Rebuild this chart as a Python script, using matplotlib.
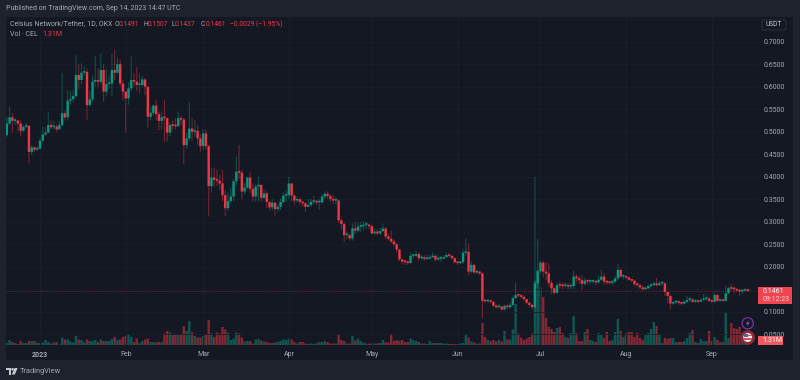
import matplotlib
matplotlib.use("Agg")
import matplotlib.pyplot as plt
from matplotlib.patches import Rectangle, Circle, Polygon, FancyBboxPatch
from matplotlib.transforms import Affine2D
import pandas as pd
import numpy as np

plt.rcParams['font.family'] = ['Roboto', 'DejaVu Sans']

first_day = "2022-12-20"
first_open = 0.493
closes = [
 .518,.532,.524,.525,.518,.502,.511,.513,.455,.465,.460,.462,
 .480,.494,.498,.515,.510,.511,.505,.515,.541,.532,
 .569,.572,.579,.626,.615,.631,.633,.559,.572,.611,
 .615,.611,.637,.589,.606,.607,.637,.631,.650,.607,
 .589,.574,.596,.615,.611,.604,.604,.616,.600,.533,
 .542,.558,.539,.524,.532,.530,.498,.515,.513,.512,
 .530,.527,.470,.485,.507,.500,.502,.485,.468,.496,
 .468,.379,.398,.393,.391,.385,.359,.330,.346,.356,
 .390,.411,.409,.367,.376,.398,.373,.356,.378,.382,
 .353,.363,.344,.332,.342,.328,.333,.344,.358,.359,
 .385,.358,.347,.350,.344,.341,.333,.337,.344,.344,
 .343,.343,.356,.362,.357,.351,.347,.347,.303,.295,
 .270,.270,.263,.285,.280,.289,.290,.293,.293,.290,
 .274,.278,.274,.279,.285,.267,.262,.256,.250,.238,
 .216,.211,.210,.208,.224,.224,.228,.219,.219,.217,
 .218,.221,.224,.216,.218,.218,.221,.226,.224,.219,
 .210,.208,.210,.231,.233,.189,.204,.187,.189,.185,
 .124,.123,.123,.122,.113,.110,.111,.105,.113,.110,
 .115,.130,.137,.136,.133,.128,.120,.115,.110,.163,
 .190,.209,.189,.185,.164,.152,.142,.159,.158,.157,
 .158,.156,.157,.178,.174,.170,.162,.169,.167,.167,
 .168,.165,.171,.178,.167,.165,.164,.167,.174,.193,
 .178,.178,.176,.171,.169,.161,.159,.154,.150,.152,
 .157,.159,.163,.159,.163,.163,.144,.135,.118,.121,
 .122,.120,.118,.122,.126,.127,.122,.124,.122,.126,
 .128,.129,.124,.122,.137,.124,.126,.124,.141,.152,
 .151,.150,.147,.145,.147,.1491,.1461]
highs = [
 .533,.556,.542,.530,.525,.525,.515,.520,.515,.470,.468,.468,
 .486,.511,.510,.544,.525,.524,.516,.524,.630,.546,
 .593,.590,.593,.670,.650,.652,.645,.640,.590,.625,
 .668,.640,.674,.650,.640,.625,.674,.683,.665,.660,
 .615,.590,.610,.667,.630,.643,.630,.624,.620,.600,
 .555,.560,.570,.545,.545,.570,.532,.520,.525,.530,
 .545,.535,.530,.497,.564,.530,.526,.515,.495,.505,
 .505,.470,.420,.420,.415,.405,.415,.370,.365,.375,
 .395,.445,.470,.416,.385,.400,.411,.385,.385,.400,
 .380,.373,.368,.345,.350,.345,.340,.352,.365,.370,
 .400,.385,.362,.356,.352,.346,.343,.350,.350,.357,
 .348,.350,.362,.367,.367,.362,.360,.355,.350,.307,
 .298,.278,.272,.296,.300,.300,.300,.301,.300,.296,
 .293,.284,.283,.286,.296,.288,.272,.281,.260,.252,
 .240,.217,.215,.214,.232,.228,.235,.232,.226,.225,
 .227,.226,.232,.228,.225,.224,.226,.229,.229,.226,
 .221,.213,.213,.239,.263,.252,.212,.206,.194,.192,
 .187,.128,.128,.126,.124,.116,.117,.113,.116,.116,
 .120,.133,.164,.140,.139,.136,.129,.121,.117,.400,
 .262,.213,.213,.210,.208,.170,.155,.165,.165,.165,
 .165,.163,.162,.191,.183,.180,.181,.175,.172,.172,
 .172,.170,.180,.193,.186,.170,.168,.171,.180,.206,
 .196,.183,.180,.178,.173,.172,.165,.162,.158,.156,
 .160,.163,.166,.175,.168,.167,.165,.143,.137,.123,
 .124,.125,.122,.126,.135,.132,.130,.128,.127,.130,
 .139,.136,.133,.127,.142,.140,.130,.128,.158,.156,
 .162,.156,.153,.151,.150,.152,.1507]
lows = [
 .489,.515,.498,.515,.500,.490,.500,.508,.430,.448,.454,.456,
 .470,.478,.490,.498,.505,.505,.500,.508,.512,.525,
 .525,.560,.565,.575,.595,.605,.625,.526,.556,.568,
 .600,.598,.605,.566,.578,.595,.579,.615,.630,.600,
 .570,.498,.560,.590,.600,.590,.585,.600,.581,.509,
 .525,.535,.525,.503,.505,.478,.478,.490,.505,.505,
 .515,.515,.428,.462,.478,.480,.488,.470,.455,.460,
 .460,.312,.365,.378,.380,.370,.345,.313,.325,.340,
 .345,.380,.395,.350,.360,.372,.365,.345,.345,.345,
 .345,.350,.330,.325,.325,.313,.322,.326,.340,.345,
 .350,.345,.338,.343,.338,.333,.322,.333,.333,.338,
 .338,.327,.340,.350,.350,.345,.340,.338,.298,.283,
 .256,.262,.258,.258,.273,.276,.277,.280,.284,.283,
 .272,.271,.270,.271,.278,.262,.258,.252,.245,.232,
 .212,.205,.203,.204,.207,.218,.222,.213,.215,.213,
 .215,.216,.220,.212,.213,.211,.216,.221,.220,.216,
 .207,.204,.206,.207,.225,.181,.185,.185,.184,.182,
 .085,.119,.120,.118,.110,.107,.107,.102,.103,.106,
 .106,.112,.128,.132,.130,.124,.116,.111,.106,.107,
 .160,.183,.176,.170,.155,.140,.138,.140,.152,.150,
 .152,.150,.150,.150,.165,.162,.150,.158,.160,.161,
 .162,.159,.163,.168,.160,.160,.159,.160,.163,.170,
 .175,.171,.172,.169,.165,.158,.155,.150,.147,.148,
 .151,.154,.158,.155,.157,.158,.135,.118,.105,.115,
 .117,.115,.114,.116,.119,.122,.120,.119,.119,.122,
 .124,.124,.122,.120,.120,.122,.122,.122,.122,.139,
 .147,.140,.145,.135,.140,.145,.1437]
volumes = [
 2,5,3,2,1,4,2,2,4,4,4,2,
 2,2.5,5,3,1.5,2.5,3,.5,7.5,5.5,
 5.5,3.5,2.5,9,5.5,5,2.5,5.5,4,4,
 5,3,5.5,4,4,4,6,8,5,5.5,
 8,9,11,8,3,6.5,2,4,5.5,6.5,
 3,3,2.5,3,3,11.5,14,12.5,10.5,10.5,
 10.5,10.5,19,14,24,12.5,9,7.5,7.5,9,
 10.5,25,11.5,8,12.5,11.5,18,15.5,12.5,5,
 6.5,12.5,11.5,7.5,3.5,4,4,1.5,5.5,6,
 4.5,3.5,3,2,2,2.5,3,4,5.5,5,
 6.5,5.5,3,1.5,3,3,1.5,1,1.5,1,
 1.7,3,3,4,3,1.5,1.5,1.5,10,5,
 4,1.5,1.5,9,4.5,6.5,4,2.5,1.5,1.5,
 1.5,1.5,1.5,2,5,3,2.5,11,4,5,
 4,5,3,3,6.5,5,4,3,1.5,1.5,
 1,4,2,2,2,2,1.5,1.5,1,1,
 1,1,1.5,2,10,7.5,3.5,2.5,1.5,1.5,
 22,8,5,4,5,3.5,5,3.5,14,5.5,
 5.5,15.5,41,11.5,7.5,5,6.5,8,11.5,64,
 75,58,48,27,18,16,13,17,18,12,
 8,7,12,29,12,4,4,13,16,5,
 4,3,12,10,7,13,4,5,13,26,
 14,8,12,13,13,8,12,7,5,10,
 12,16,23,19,10,2,7,6,7,7,
 3,3,3,4,7,12,15,3,2,6,
 4,4,14,4,8,5,3,3,32,7,
 22,17,16,18,12,8,5]
price_ticks = [.05,.10,.15,.20,.25,.30,.35,.40,.45,.50,.55,.60,.65,.70]
month_dates = ["2023-01-01","2023-02-01","2023-03-01","2023-04-01","2023-05-01",
               "2023-06-01","2023-07-01","2023-08-01","2023-09-01"]
month_labels = ["2023","Feb","Mar","Apr","May","Jun","Jul","Aug","Sep"]

UP = "#089981"; DOWN = "#f23645"
PANE = "#141823"; STRIP = "#1e222d"; GRID = "#1a1e29"; TXT = "#a6a9b2"

n = len(closes)
dates = pd.date_range(first_day, periods=n, freq="D")
opens = [first_open] + closes[:-1]
x = np.arange(n)
up = [c >= o for o, c in zip(opens, closes)]
cols = [UP if u else DOWN for u in up]
origin = pd.Timestamp(first_day)
tick_x = [(pd.Timestamp(d) - origin).days for d in month_dates]

fig = plt.figure(figsize=(8, 3.8), dpi=100, facecolor=STRIP)
px = Affine2D().scale(1, -1).translate(0, 380)

fig.add_artist(Rectangle((6, 17), 787, 343, transform=px, fc=PANE, ec="none", zorder=-5))

L, R, T, B = 6, 758, 17, 345
pos = [L/800, 1-B/380, (R-L)/800, (B-T)/380]
ax_v = fig.add_axes(pos, facecolor="none", zorder=1)
ax = fig.add_axes(pos, facecolor="none", zorder=2, sharex=ax_v)

xmin = -0.3
xmax = xmin + (R-L)/2.765
ax.set_xlim(xmin, xmax)
ax.set_ylim(0.1 + (311.7-B)/450, 0.1 + (311.7-T)/450)
ax_v.set_ylim(0, B-T)

vbars = ax_v.bar(x, volumes, width=0.86, color=cols, alpha=0.5, linewidth=0)
ax_v.set_yticks([])

wicks = ax.vlines(x, lows, highs, colors=cols, linewidth=0.8, alpha=0.42, zorder=3)
wicks.set_snap(False)
body_b = [min(o, c) for o, c in zip(opens, closes)]
body_h = [max(abs(c-o), 0.0035) for o, c in zip(opens, closes)]
bodies = ax.bar(x, body_h, bottom=body_b, width=0.86, color=cols, linewidth=0, zorder=4)
for p in list(vbars) + list(bodies):
    p.set_snap(False)

ax.axhline(closes[-1], color=DOWN, lw=0.7, ls=(0, (1, 1.2)), alpha=0.4, zorder=2)

ax.set_yticks(price_ticks)
ax.set_yticklabels([f"{v:.4f}" for v in price_ticks], color=TXT, fontsize=5.0)
ax.yaxis.tick_right()
ax.tick_params(axis="y", length=0, pad=4)
ax.set_xticks(tick_x)
ax.set_xticklabels(month_labels, color=TXT, fontsize=5.0)
ax.get_xticklabels()[0].set_fontweight("bold")
ax.tick_params(axis="x", length=0, pad=4)
ax.grid(True, color=GRID, lw=0.6, zorder=0)
ax.set_axisbelow(True)
for a in (ax, ax_v):
    for s in a.spines.values():
        s.set_visible(False)
plt.setp(ax_v.get_xticklabels(), visible=False)
ax_v.tick_params(axis="x", length=0)

def t(xp, yp, s, color=TXT, size=5.0, **kw):
    fig.text(xp/800, 1-yp/380, s, color=color, fontsize=size, va="center", ha=kw.pop("ha", "left"), **kw)

t(6, 9, "Published on TradingView.com, Sep 14, 2023 14:47 UTC", size=5.0)
t(10, 24, "Celsius Network/Tether, 1D, OKX")
for xp, s, c in [(115, "O", TXT), (119, "0.1491", DOWN), (144, "H", TXT), (148, "0.1507", DOWN),
                 (171, "L", TXT), (175, "0.1437", DOWN), (201, "C", TXT), (205.5, "0.1461", DOWN),
                 (230, "\u22120.0029 (\u22121.95%)", DOWN)]:
    t(xp, 24, s, color=c, size=4.9)
t(10, 34, "Vol \u00b7 CEL")
t(42, 34, "1.31M", color=DOWN)

fig.add_artist(FancyBboxPatch((762, 20), 24, 10, boxstyle="round,pad=0,rounding_size=1.5", transform=px,
                              fc=PANE, ec="#363a45", lw=0.5))
t(774, 25, "USDT", ha="center", size=4.8, color="#c4c7cf")

fig.add_artist(Rectangle((758, 287), 34, 17, transform=px, fc="#f0444f", ec="none", zorder=5))
t(763, 291.5, "0.1461", color="#ffffff", size=5.0, zorder=6)
t(763, 299.5, "09:12:23", color="#ffd9db", size=5.0, zorder=6)
fig.add_artist(Rectangle((758, 336), 25, 8.5, transform=px, fc="#f0595f", ec="none", zorder=5))
t(762, 340.3, "1.31M", color="#ffffff", size=5.0, zorder=6)

fig.add_artist(Circle((747.7, 323.3), 5.6, transform=px, fc=PANE, ec="#7e30a5", lw=0.9, zorder=5))
fig.add_artist(Polygon([(748.8, 319.8), (745.8, 324), (747.6, 324), (746.8, 326.8), (749.8, 322.6), (748, 322.6)],
                       transform=px, fc="#8a4bb0", ec="none", zorder=6))
fig.add_artist(Circle((747.7, 337.5), 7.3, transform=px, fc="#8a2a33", ec="none", zorder=5))
fig.add_artist(Circle((747.7, 337.5), 4.5, transform=px, fc="#e8e8ee", ec="none", zorder=6))
fig.add_artist(Rectangle((743.2, 335), 9, 1.2, transform=px, fc="#d8505a", ec="none", zorder=7))
fig.add_artist(Rectangle((743.4, 338.3), 8.7, 1.2, transform=px, fc="#d8505a", ec="none", zorder=7))
fig.add_artist(Rectangle((744.3, 333.8), 3.4, 3.2, transform=px, fc="#4a66b8", ec="none", zorder=8))

# TradingView logo
LOGO = "#c8cad0"
fig.add_artist(Polygon([(6, 368), (11.2, 368), (11.2, 374.5), (8.6, 374.5), (8.6, 370.4), (6, 370.4)],
                       transform=px, fc=LOGO, ec="none"))
fig.add_artist(Circle((12.6, 369.3), 1.3, transform=px, fc=LOGO, ec="none"))
fig.add_artist(Polygon([(14.6, 368), (17.6, 368), (14.8, 374.5), (11.8, 374.5)],
                       transform=px, fc=LOGO, ec="none"))
t(19.5, 371.2, "TradingView", color="#a8abb3", size=5.3)

fig.savefig("out.png", dpi=100, facecolor=STRIP)
